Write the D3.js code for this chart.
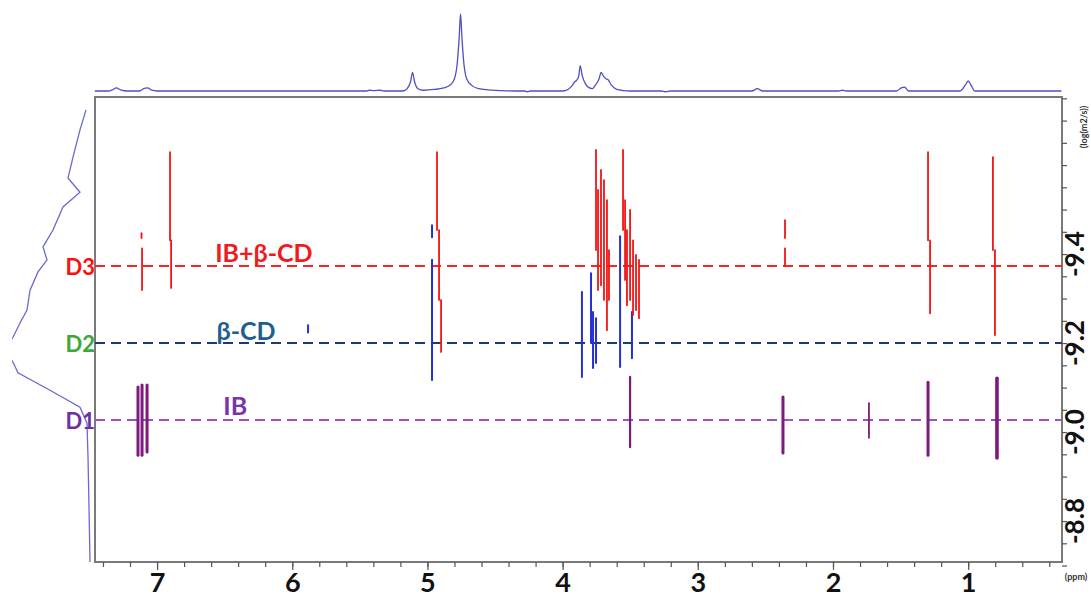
<!DOCTYPE html>
<html><head><meta charset="utf-8">
<script src="https://cdn.jsdelivr.net/npm/d3@7"></script>
<style>html,body{margin:0;padding:0;background:#fff;}svg{display:block;}</style>
</head><body>
<svg id="c" width="1091" height="599"></svg>
<script>
// ---------- data ----------
const ppmTicks = [7, 6, 5, 4, 3, 2, 1];
const logDTicks = [-9.4, -9.2, -9.0, -8.8];
const levelNames = ["D3", "D2", "D1"];
const levelLogD = [-9.373, -9.2, -9.027];
const seriesNames = ["IB+\u03B2-CD", "\u03B2-CD", "IB"];
const seriesLabelPpm = [6.57, 6.56, 6.51];

// 2D cross peaks: [ppm, logD top, logD bottom]
const redPeaks = [
  [7.115, -9.447, -9.436], [7.111, -9.413, -9.319],
  [6.904, -9.629, -9.431], [6.896, -9.431, -9.324],
  [4.929, -9.629, -9.454], [4.914, -9.454, -9.297], [4.899, -9.297, -9.180],
  [3.753, -9.634, -9.409], [3.738, -9.544, -9.319], [3.716, -9.589, -9.330],
  [3.694, -9.566, -9.297], [3.672, -9.521, -9.229], [3.657, -9.409, -9.297],
  [3.553, -9.634, -9.454], [3.538, -9.521, -9.342], [3.524, -9.454, -9.285],
  [3.501, -9.499, -9.297], [3.479, -9.431, -9.263], [3.457, -9.398, -9.274],
  [3.435, -9.387, -9.256],
  [2.355, -9.476, -9.436], [2.355, -9.413, -9.373],
  [1.297, -9.629, -9.431], [1.282, -9.431, -9.267],
  [0.817, -9.618, -9.409], [0.802, -9.409, -9.218]
];
const bluePeaks = [
  [4.966, -9.465, -9.438], [4.966, -9.387, -9.117],
  [3.857, -9.315, -9.124], [3.790, -9.357, -9.200], [3.775, -9.270, -9.144],
  [3.753, -9.256, -9.155], [3.575, -9.440, -9.146], [3.487, -9.270, -9.166],
  [5.883, -9.240, -9.224]
];
const purplePeaks = [
  [7.141, -9.101, -8.948], [7.111, -9.106, -8.948], [7.074, -9.106, -8.955],
  [3.501, -9.124, -8.966], [2.370, -9.079, -8.953], [1.734, -9.065, -8.987],
  [1.297, -9.112, -8.948], [0.787, -9.121, -8.942]
];
const purpleWidth = [3, 3, 3, 2.2, 3, 1.8, 3, 3.6];

// 1D proton projection (top): ppm, intensity
const specPpm = [7.46,7.36,7.33,7.30,7.27,7.22,7.13,7.10,7.07,7.04,7.00,5.45,5.43,5.40,5.35,5.32,5.18,5.15,5.125,5.11,5.095,5.07,5.03,4.95,4.88,4.83,4.80,4.78,4.765,4.755,4.745,4.73,4.71,4.67,4.62,4.55,4.45,4.35,4.28,4.26,4.24,4.00,3.96,3.93,3.91,3.895,3.88,3.87,3.855,3.83,3.80,3.78,3.76,3.73,3.715,3.70,3.68,3.665,3.64,3.60,3.55,3.50,3.27,3.24,3.20,2.60,2.56,2.52,1.96,1.93,1.90,1.53,1.495,1.47,1.44,1.06,1.02,1.00,0.98,0.95,0.31];
const specInt = [0,0,1.5,4,1.5,0,0,3,4,1,0,0,1,0.5,1,0,0,3,12,24,12,3,1,2,4,8,16,35,70,100,70,35,16,7,3,1.5,0.5,0,0,-1,0,0,2,7,12,14,20,33,20,9,4,3,7,16,24,20,16,15,8,2,0.5,0,0,-1,0,0,3,0,0,1,0,0,4,5,0,0,8,13,8,0,0];

// diffusion projection (left): logD, intensity
const projLogD = [-9.724,-9.679,-9.618,-9.571,-9.539,-9.506,-9.454,-9.416,-9.387,-9.360,-9.319,-9.274,-9.245,-9.213,-9.185,-9.157,-9.133,-9.094,-9.056,-9.020,-8.944,-8.831,-8.708];
const projInt = [9,15,22,27,15,32,42,52,48,57,65,68,75,82,90,82,77,45,15,8,7,6,5];

// ---------- drawing ----------
const svg = d3.select("#c");
const F = "Lato, 'Open Sans', 'DejaVu Sans', sans-serif";
const L = 95, R = 1062, T = 97, B = 562;
const x = d3.scaleLinear().domain([7.459, 0.306]).range([L, R]);
const y = d3.scaleLinear().domain([-9.753, -8.708]).range([T, B]);
const yTop = d3.scaleLinear().domain([0, 100]).range([91, 14]);
const xLeft = d3.scaleLinear().domain([0, 90]).range([L, 5]);

// top spectrum
const specData = specPpm.map((p, i) => [p, specInt[i]]);
svg.append("path").datum(specData)
  .attr("fill", "none").attr("stroke", "#4f4fc8").attr("stroke-width", 1.3)
  .attr("d", d3.line().x(d => x(d[0])).y(d => yTop(d[1])).curve(d3.curveMonotoneX));

// left projection
svg.append("clipPath").attr("id", "lc").append("rect")
  .attr("x", 12).attr("y", 0).attr("width", 90).attr("height", 599);
const projData = projLogD.map((v, i) => [v, projInt[i]]);
svg.append("path").datum(projData).attr("clip-path", "url(#lc)")
  .attr("fill", "none").attr("stroke", "#6a6ad0").attr("stroke-width", 1.3)
  .attr("d", d3.line().x(d => xLeft(d[1])).y(d => y(d[0])).curve(d3.curveLinear));

// frame
svg.append("rect").attr("x", L).attr("y", T).attr("width", R - L).attr("height", B - T)
  .attr("fill", "none").attr("stroke", "#7a7a7a").attr("stroke-width", 2);

// x axis (bottom)
const xMinor = d3.range(7.4, 0.3, -0.2).map(v => +v.toFixed(1));
const gx = svg.append("g").attr("transform", `translate(0,${B})`)
  .call(d3.axisBottom(x).tickValues(xMinor).tickSize(5).tickFormat(""));
gx.select(".domain").remove();
gx.selectAll("line").attr("stroke", "#555").attr("stroke-width", 1.2);
const gx2 = svg.append("g").attr("transform", `translate(0,${B})`)
  .call(d3.axisBottom(x).tickValues(ppmTicks).tickSize(8).tickFormat(d3.format("d")));
gx2.select(".domain").remove();
gx2.selectAll("line").attr("stroke", "#555").attr("stroke-width", 1.2);
gx2.selectAll("text").attr("font-family", F).attr("font-weight", "bold")
  .attr("font-size", 27).attr("fill", "#111").attr("dy", null).attr("y", 30);

svg.append("text").attr("x", 1076).attr("y", 580).attr("text-anchor", "middle")
  .attr("font-family", F).attr("font-weight", "bold").attr("font-size", 9).attr("fill", "#333")
  .text("(ppm)");

// y axis (right)
const yMinor = d3.range(-9.75, -8.69, 0.05).map(v => +v.toFixed(2));
const gy = svg.append("g").attr("transform", `translate(${R},0)`)
  .call(d3.axisRight(y).tickValues(yMinor).tickSize(5).tickFormat(""));
gy.select(".domain").remove();
gy.selectAll("line").attr("stroke", "#555").attr("stroke-width", 1.2);
svg.append("g").selectAll("text").data(logDTicks).join("text")
  .attr("transform", d => `translate(1074,${y(d)}) rotate(-90)`)
  .attr("text-anchor", "middle").attr("dominant-baseline", "central")
  .attr("font-family", F).attr("font-weight", "bold").attr("font-size", 26).attr("fill", "#111")
  .text(d => d3.format(".1f")(d).replace("\u2212", "-"));
svg.append("text").attr("transform", "translate(1083,127) rotate(-90)")
  .attr("text-anchor", "middle").attr("dominant-baseline", "central")
  .attr("font-family", F).attr("font-weight", "bold").attr("font-size", 9).attr("fill", "#333")
  .text("(log(m2/s))");

// dashed level lines
const lineColors = ["#ff2424", "#1c3a78", "#a04fd0"];
const labelColors = ["#ff1010", "#3aa83a", "#7030a0"];
const seriesColors = ["#ee1c1c", "#1f5f8f", "#7a34a8"];
const seriesDy = [-4, -3, -5];
svg.append("g").selectAll("line").data(levelLogD).join("line")
  .attr("x1", L).attr("x2", R).attr("y1", d => y(d)).attr("y2", d => y(d))
  .attr("stroke", (d, i) => lineColors[i]).attr("stroke-width", 2)
  .attr("stroke-dasharray", "10,6");

// peaks
function drawPeaks(data, color, w) {
  svg.append("g").selectAll("line").data(data).join("line")
    .attr("x1", d => x(d[0])).attr("x2", d => x(d[0]))
    .attr("y1", d => y(d[1])).attr("y2", d => y(d[2]))
    .attr("stroke", color).attr("stroke-width", w).attr("stroke-linecap", "round");
}
drawPeaks(bluePeaks, "#2530d8", () => 2);
drawPeaks(redPeaks, "#f21414", () => 1.8);
drawPeaks(purplePeaks, "#7d1a7d", (d, i) => purpleWidth[i]);

// level labels
svg.append("g").selectAll("text").data(levelNames).join("text")
  .attr("x", 95).attr("y", (d, i) => y(levelLogD[i]))
  .attr("text-anchor", "end").attr("dominant-baseline", "central")
  .attr("font-family", F).attr("font-weight", "bold").attr("font-size", 22)
  .attr("fill", (d, i) => labelColors[i]).text(d => d);

// series labels
svg.append("g").selectAll("text").data(seriesNames).join("text")
  .attr("x", (d, i) => x(seriesLabelPpm[i])).attr("y", (d, i) => y(levelLogD[i]) + seriesDy[i])
  .attr("font-family", F).attr("font-weight", "bold").attr("font-size", 25)
  .attr("fill", (d, i) => seriesColors[i]).text(d => d);
</script>
</body></html>
